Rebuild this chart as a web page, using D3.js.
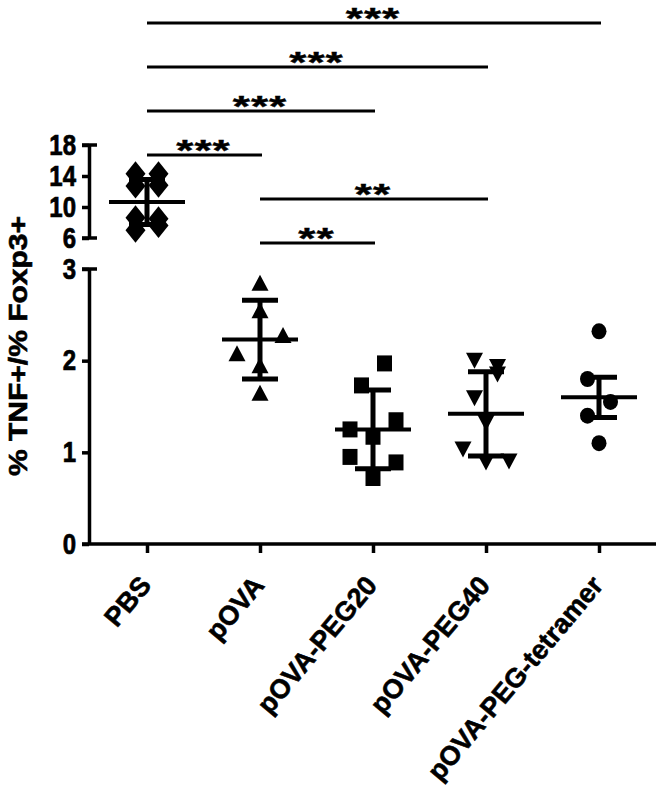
<!DOCTYPE html>
<html>
<head>
<meta charset="utf-8">
<script src="https://cdn.jsdelivr.net/npm/d3@7"></script>
<style>
  body { margin: 0; background: #fff; }
  text { font-family: Arial, "Liberation Sans", sans-serif; font-weight: bold; fill: #000; }
</style>
</head>
<body>
<div id="chart"></div>
<script>
// groups along the x axis and the marker used for each
var groups = ["PBS", "pOVA", "pOVA-PEG20", "pOVA-PEG40", "pOVA-PEG-tetramer"];
var shapes = ["diamond", "triangle", "square", "triangleDown", "circle"];

// single animals (% TNF+/% Foxp3+), cols = scatter column the dot sits in
var pbsVals = [14.3, 14.3, 12.7, 12.8, 8.6, 8.5, 7.0, 7.6];
var pbsCols = [-1, 1, -1, 1, -1, 1, -1, 1];
var povaVals = [2.85, 2.55, 2.28, 2.08, 1.95, 1.65];
var povaCols = [0, 0, 2, -2, 0, 0];
var peg20Vals = [1.97, 1.73, 1.35, 1.25, 1.17, 0.95, 0.89, 0.72];
var peg20Cols = [1, -1, 2, -2, 0, -2, 2, 0];
var peg40Vals = [2.0, 1.93, 1.85, 1.59, 1.32, 1.03, 0.89, 0.9];
var peg40Cols = [-1, 1, 1, -1, 0, -2, 0, 2];
var tetVals = [2.32, 1.8, 1.55, 1.4, 1.1];
var tetCols = [0, -1, 1, -1, 0];

// mean and SD bars as drawn
var means = [10.65, 2.23, 1.25, 1.42, 1.60];
var sds = [2.9, 0.43, 0.43, 0.46, 0.22];

// axis ticks (broken y axis)
var lowTicks = [0, 1, 2, 3];
var highTicks = [6, 10, 14, 18];

// significance bars, top to bottom
var comparisons = [
  ["PBS", "pOVA-PEG-tetramer", "***"],
  ["PBS", "pOVA-PEG40", "***"],
  ["PBS", "pOVA-PEG20", "***"],
  ["PBS", "pOVA", "***"],
  ["pOVA", "pOVA-PEG40", "**"],
  ["pOVA", "pOVA-PEG20", "**"]
];

var allVals = [pbsVals, povaVals, peg20Vals, peg40Vals, tetVals];
var allCols = [pbsCols, povaCols, peg20Cols, peg40Cols, tetCols];

var svg = d3.select("#chart").append("svg").attr("width", 659).attr("height", 795);

var axisLeftX = 89;
var x = d3.scalePoint().domain(groups).range([147, 599]);
var yLow = d3.scaleLinear().domain([0, 3]).range([544, 269]);
var yHigh = d3.scaleLinear().domain([6, 18]).range([238, 145]);
function yFor(i) { return i === 0 ? yHigh : yLow; }

var stretch = "scale(1,1.2)";
var fontFam = "Arial, 'Liberation Sans', sans-serif";

// heavier bold like the original export
function heavy(sel) {
  sel.attr("font-family", fontFam).attr("font-weight", "bold")
    .attr("fill", "#000").attr("stroke", "#000").attr("stroke-width", 0.6);
}

// y axes
function drawY(scale, ticks) {
  var g = svg.append("g").attr("transform", "translate(" + axisLeftX + ",0)")
    .call(d3.axisLeft(scale).tickValues(ticks).tickFormat(d3.format("d"))
      .tickSize(7).tickPadding(6).tickSizeOuter(0));
  g.select(".domain").attr("stroke", "#000").attr("stroke-width", 3.5);
  g.selectAll(".tick line").attr("stroke", "#000").attr("stroke-width", 3.5);
  g.selectAll(".tick text")
    .attr("font-size", 24)
    .attr("transform", stretch)
    .call(heavy);
  return g;
}
drawY(yLow, lowTicks);
drawY(yHigh, highTicks);

// small caps where the axis segments end
[yLow(3), yHigh(6), yHigh(18)].forEach(function (yy) {
  svg.append("line")
    .attr("x1", axisLeftX - 7).attr("x2", axisLeftX + 8)
    .attr("y1", yy).attr("y2", yy)
    .attr("stroke", "#000").attr("stroke-width", 3.5);
});

// x axis
svg.append("line")
  .attr("x1", axisLeftX - 7).attr("x2", 656)
  .attr("y1", yLow(0)).attr("y2", yLow(0))
  .attr("stroke", "#000").attr("stroke-width", 3.5);

var gx = svg.append("g").attr("transform", "translate(0," + yLow(0) + ")")
  .call(d3.axisBottom(x).tickSize(9).tickSizeOuter(0));
gx.select(".domain").remove();
gx.selectAll(".tick line").attr("stroke", "#000").attr("stroke-width", 3.5);
gx.selectAll(".tick text")
  .attr("x", 0).attr("y", 0).attr("dy", null)
  .attr("text-anchor", "end")
  .attr("font-size", 27)
  .attr("transform", "translate(5,42) rotate(-50)")
  .call(heavy);

// y title
svg.append("text")
  .attr("transform", "translate(27,346) " + stretch + " rotate(-90)")
  .attr("text-anchor", "middle")
  .attr("font-size", 25)
  .text("% TNF+/% Foxp3+")
  .call(heavy);

// markers
var markerSize = {
  diamond: [20, 25], triangle: [17, 16], square: [15, 16],
  triangleDown: [17, 16], circle: [15, 16]
};
function shapePath(kind) {
  var w = markerSize[kind][0] / 2, h = markerSize[kind][1] / 2;
  if (kind === "diamond") return "M0," + (-h) + "L" + w + ",0L0," + h + "L" + (-w) + ",0Z";
  if (kind === "triangle") return "M0," + (-h) + "L" + w + "," + h + "L" + (-w) + "," + h + "Z";
  if (kind === "triangleDown") return "M" + (-w) + "," + (-h) + "L" + w + "," + (-h) + "L0," + h + "Z";
  if (kind === "square") return "M" + (-w) + "," + (-h) + "H" + w + "V" + h + "H" + (-w) + "Z";
  // ellipse-ish circle
  return "M" + (-w) + ",0A" + w + "," + h + " 0 1,0 " + w + ",0A" + w + "," + h + " 0 1,0 " + (-w) + ",0Z";
}

var colStep = 11.5;
groups.forEach(function (g, i) {
  var scale = yFor(i);
  var pts = allVals[i].map(function (v, j) { return { v: v, c: allCols[i][j] }; });
  svg.append("g").selectAll("path").data(pts).enter().append("path")
    .attr("d", shapePath(shapes[i]))
    .attr("fill", "#000")
    .attr("transform", function (d) {
      return "translate(" + (x(g) + d.c * colStep) + "," + scale(d.v) + ")";
    });
});

// mean +/- SD
groups.forEach(function (g, i) {
  var scale = yFor(i), cx = x(g);
  var eg = svg.append("g").attr("stroke", "#000");
  eg.append("line").attr("x1", cx).attr("x2", cx)
    .attr("y1", scale(means[i] - sds[i])).attr("y2", scale(means[i] + sds[i]))
    .attr("stroke-width", 5);
  [means[i] - sds[i], means[i] + sds[i]].forEach(function (v) {
    eg.append("line").attr("x1", cx - 18).attr("x2", cx + 18)
      .attr("y1", scale(v)).attr("y2", scale(v)).attr("stroke-width", 5);
  });
  eg.append("line").attr("x1", cx - 38).attr("x2", cx + 38)
    .attr("y1", scale(means[i])).attr("y2", scale(means[i])).attr("stroke-width", 4);
});

// significance bars
comparisons.forEach(function (c, k) {
  var yy = 23 + 44 * k;
  var x1 = x(c[0]), x2 = x(c[1]);
  svg.append("line").attr("x1", x1).attr("x2", x2 + 2)
    .attr("y1", yy).attr("y2", yy)
    .attr("stroke", "#000").attr("stroke-width", 3);
  svg.append("text")
    .attr("transform", "translate(" + ((x1 + x2) / 2) + "," + (yy - 2) + ") scale(1.05,0.72)")
    .attr("y", 10)
    .attr("text-anchor", "middle")
    .attr("font-size", 42)
    .attr("letter-spacing", 1)
    .text(c[2])
    .call(heavy);
});
</script>
</body>
</html>
